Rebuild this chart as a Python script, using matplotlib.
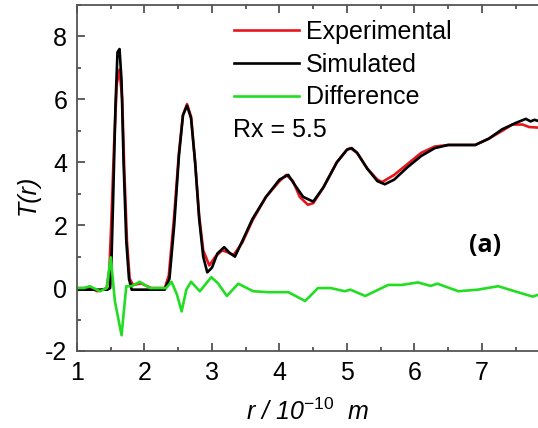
import numpy as np
import matplotlib
matplotlib.use('Agg')
import matplotlib.pyplot as plt
from matplotlib.ticker import MultipleLocator

plt.rcParams['font.family'] = ['Liberation Sans', 'DejaVu Sans']
plt.rcParams['mathtext.fontset'] = 'custom'
plt.rcParams['mathtext.rm'] = 'Liberation Sans'
plt.rcParams['mathtext.it'] = 'Liberation Sans:italic'
plt.rcParams['mathtext.default'] = 'it'
plt.rcParams['axes.unicode_minus'] = False

# experimental T(r)
r_exp = [1.0, 1.2, 1.3, 1.44, 1.48, 1.51, 1.55, 1.59, 1.63, 1.67, 1.7, 1.74, 1.78, 1.83,
         1.95, 2.1, 2.3, 2.36, 2.44, 2.51, 2.57, 2.63, 2.69, 2.75, 2.81, 2.87, 2.96, 3.05,
         3.15, 3.22, 3.32, 3.45, 3.6, 3.8, 4.0, 4.1, 4.2, 4.3, 4.42, 4.5, 4.65, 4.85, 5.0,
         5.05, 5.15, 5.3, 5.45, 5.52, 5.7, 5.9, 6.1, 6.3, 6.5, 6.9, 7.1, 7.3, 7.45, 7.6,
         7.7, 7.85]
t_exp = [0.0, 0.0, -0.1, 0.0, 0.6, 2.2, 4.6, 6.5, 6.95, 6.0, 3.8, 1.5, 0.3, 0.1,
         0.15, 0.0, 0.0, 0.4, 2.3, 4.3, 5.5, 5.85, 5.45, 4.0, 2.3, 1.2, 0.72, 1.0,
         1.2, 1.15, 1.05, 1.45, 2.15, 2.9, 3.4, 3.6, 3.4, 2.9, 2.65, 2.7, 3.2, 4.0, 4.4,
         4.45, 4.3, 3.8, 3.45, 3.37, 3.6, 3.95, 4.3, 4.5, 4.55, 4.55, 4.75, 5.0, 5.2, 5.2,
         5.12, 5.1]

# simulated T(r)
r_sim = [1.0, 1.3, 1.45, 1.49, 1.51, 1.54, 1.57, 1.6, 1.63, 1.66, 1.69, 1.73, 1.77, 1.81,
         2.3, 2.37, 2.44, 2.51, 2.57, 2.63, 2.69, 2.75, 2.81, 2.87, 2.93, 3.0, 3.08, 3.18,
         3.26, 3.34, 3.45, 3.6, 3.8, 4.0, 4.13, 4.22, 4.35, 4.5, 4.65, 4.85, 5.0, 5.07,
         5.15, 5.3, 5.45, 5.56, 5.7, 5.9, 6.1, 6.3, 6.5, 6.9, 7.1, 7.3, 7.5, 7.65, 7.72,
         7.78, 7.85]
t_sim = [-0.05, -0.05, -0.05, 0.0, 0.8, 3.2, 5.8, 7.5, 7.6, 6.6, 4.0, 1.5, 0.3, -0.05,
         -0.05, 0.3, 2.0, 4.2, 5.5, 5.8, 5.4, 4.0, 2.2, 1.0, 0.5, 0.65, 1.1, 1.3,
         1.12, 1.0, 1.5, 2.2, 2.9, 3.45, 3.6, 3.3, 2.9, 2.75, 3.2, 4.0, 4.4, 4.45,
         4.3, 3.8, 3.4, 3.3, 3.45, 3.85, 4.2, 4.45, 4.55, 4.55, 4.75, 5.05, 5.25, 5.38, 5.3,
         5.35, 5.3]

# difference
r_diff = [1.0, 1.1, 1.19, 1.34, 1.44, 1.5, 1.56, 1.66, 1.73, 1.81, 1.93, 2.08, 2.32,
          2.4, 2.48, 2.55, 2.62, 2.69, 2.82, 2.99, 3.09, 3.22, 3.39, 3.61, 3.83, 4.13,
          4.38, 4.57, 4.76, 4.97, 5.05, 5.27, 5.61, 5.81, 6.05, 6.24, 6.34, 6.65, 6.94,
          7.24, 7.53, 7.75, 7.85]
t_diff = [0.0, 0.0, 0.06, -0.1, 0.0, 0.98, -0.4, -1.5, 0.06, 0.06, 0.2, 0.0, 0.0,
          0.2, -0.2, -0.74, -0.05, 0.2, -0.1, 0.35, 0.15, -0.25, 0.14, -0.1, -0.13, -0.13,
          -0.41, 0.0, 0.0, -0.1, -0.05, -0.25, 0.1, 0.1, 0.18, 0.07, 0.14, -0.1, -0.05,
          0.06, -0.13, -0.27, -0.2]

fig = plt.figure(figsize=(5.38, 4.28), dpi=100)
ax = fig.add_axes([77/538, 77/428, 461/538, 346/428])

ax.plot(r_exp, t_exp, color='#e8141c', lw=1.9, label='Experimental')
ax.plot(r_sim, t_sim, color='black', lw=1.9, label='Simulated')
ax.plot(r_diff, t_diff, color='#22dd22', lw=1.9, label='Difference')

ax.set_xlim(1, 7.83)
ax.set_ylim(-2, 9)
ax.xaxis.set_major_locator(MultipleLocator(1))
ax.xaxis.set_minor_locator(MultipleLocator(0.5))
ax.yaxis.set_major_locator(MultipleLocator(2))
ax.yaxis.set_minor_locator(MultipleLocator(1))
ax.tick_params(which='both', direction='in', top=True, right=False,
               labelsize=18, color='#444444', width=1.2)
ax.tick_params(which='major', length=6, pad=7)
ax.tick_params(which='minor', length=3)
ax.spines['right'].set_visible(False)
for s in ['left', 'bottom', 'top']:
    ax.spines[s].set_color('#555555')
    ax.spines[s].set_linewidth(1.3)

ax.set_xlabel(r'r / 10$^{-10}$  m', fontsize=18, style='italic', labelpad=10)
ax.set_ylabel('T(r)', fontsize=18, style='italic')
ax.yaxis.set_label_coords(-0.08, 0.45)

leg = ax.legend(loc='upper left', bbox_to_anchor=(0.307, 1.0), frameon=False,
                fontsize=18, handlelength=2.6, handletextpad=0.3,
                labelspacing=0.35, borderaxespad=0.2)
fig.text(233/538, 1 - 130/428, 'Rx = 5.5', fontsize=18, va='center')
fig.text(485/538, 1 - 245/428, '(a)', fontsize=18, fontweight='bold',
         ha='center', va='center', family='Open Sans')

fig.savefig('out.png', dpi=100)
